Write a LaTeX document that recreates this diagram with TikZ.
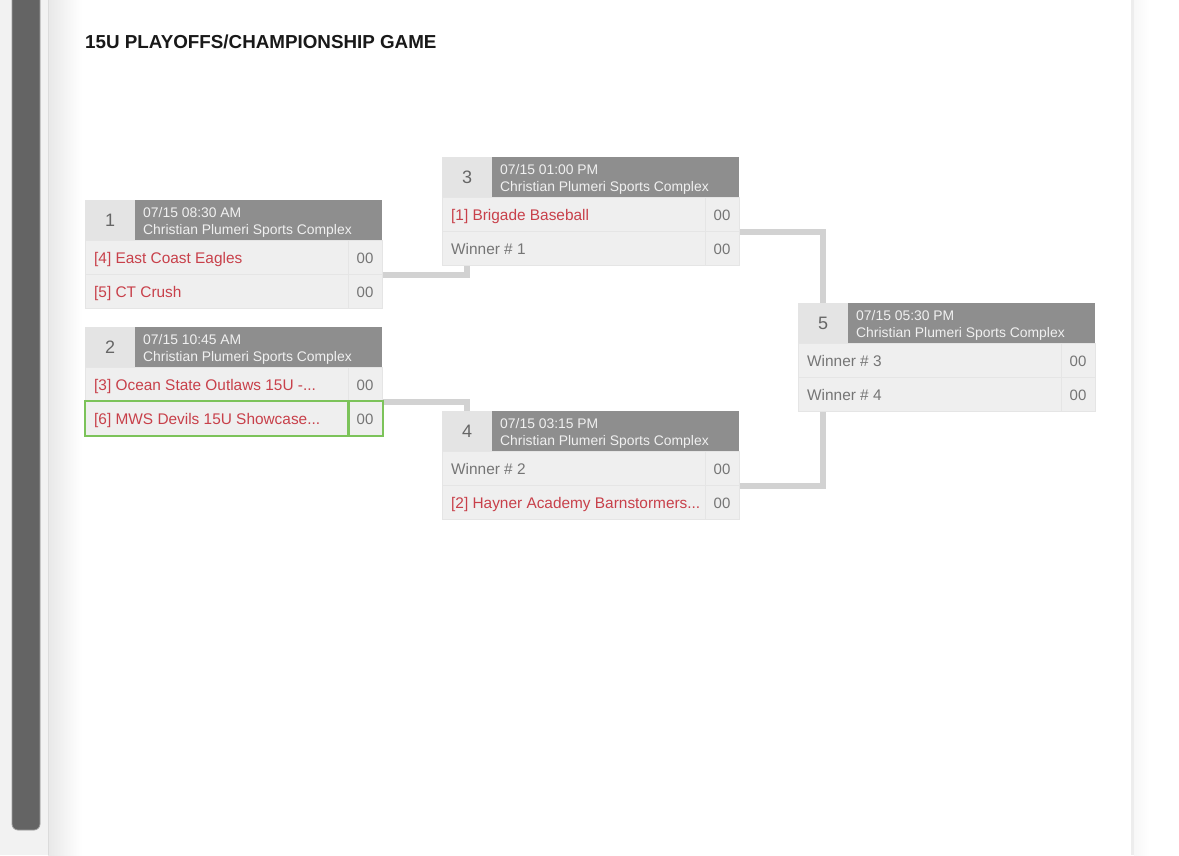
\documentclass[tikz,border=0pt]{standalone}
\usepackage{fontspec}
\setmainfont{Liberation Sans}
\pgfdeclarelayer{bg}
\pgfdeclarelayer{conn}
\pgfsetlayers{bg,conn,main}
\definecolor{hdrgray}{HTML}{8E8E8E}
\definecolor{numgray}{HTML}{E4E4E4}
\definecolor{cellgray}{HTML}{EFEFEF}
\definecolor{cellline}{HTML}{E5E5E5}
\definecolor{teamred}{HTML}{C8404A}
\definecolor{txtgray}{HTML}{757575}
\definecolor{numtxt}{HTML}{666666}
\definecolor{conngray}{HTML}{D2D2D2}
\definecolor{hlgreen}{HTML}{7CC35A}
\definecolor{barcol}{HTML}{646464}
\tikzset{
  numbox/.style={anchor=north west, minimum width=50pt, minimum height=40pt, inner sep=0pt, fill=numgray, text=numtxt, font=\fontsize{18}{20}\selectfont},
  hdrbox/.style={anchor=north west, minimum width=247pt, minimum height=40pt, inner sep=0pt, fill=hdrgray},
  hdrtxt/.style={anchor=base west, inner sep=0pt, text=white!94!black, font=\fontsize{13.9}{16}\selectfont},
  cellbox/.style={anchor=north west, minimum height=34pt, inner sep=0pt, fill=cellgray, draw=cellline, line width=1pt},
  redteam/.style={anchor=base west, inner sep=0pt, text=teamred, font=\fontsize{15.4}{18}\selectfont},
  grayteam/.style={anchor=base west, inner sep=0pt, text=txtgray, font=\fontsize{15.4}{18}\selectfont},
  scoretxt/.style={anchor=base, inner sep=0pt, text=txtgray, font=\fontsize{15}{18}\selectfont},
  connline/.style={draw=conngray, line width=6pt},
  hlbox/.style={draw=hlgreen, line width=2pt}
}
\newcommand\gamebox[9]{%
  \node[numbox] (#1n) at (#2,#3) {#4};
  \node[hdrbox] (#1h) at ({#2+50},#3) {};
  \node[hdrtxt] (#1d) at ({#2+58},{#3+17}) {#5};
  \node[hdrtxt] (#1v) at ({#2+58},{#3+34}) {Christian Plumeri Sports Complex};
  \node[cellbox, minimum width=263pt] (#1r1) at (#2,{#3+40}) {};
  \node[cellbox, minimum width=34pt] (#1s1) at ({#2+263},{#3+40}) {};
  \node[cellbox, minimum width=263pt] (#1r2) at (#2,{#3+74}) {};
  \node[cellbox, minimum width=34pt] (#1s2) at ({#2+263},{#3+74}) {};
  \node[#7] (#1t1) at ({#2+9},{#3+63}) {#6};
  \node[scoretxt] (#1p1) at ({#2+280},{#3+63}) {00};
  \node[#9] (#1t2) at ({#2+9},{#3+97}) {#8};
  \node[scoretxt] (#1p2) at ({#2+280},{#3+97}) {00};
}
\begin{document}
\begin{tikzpicture}[x=1pt,y=-1pt]
\useasboundingbox (0,0) rectangle (1179,855);
\begin{pgfonlayer}{bg}
  \fill[white] (0,0) rectangle (1179,855);
  \fill[white!95!black] (0,0) rectangle (48,855);
  \shade[left color=white!91!black, right color=white] (48,0) rectangle (82,855);
  \draw[white!86!black, line width=1pt] (48,0) -- (48,855);
  \fill[barcol, draw=white!62!black, line width=0.8pt, rounded corners=6pt] (12,-10) rectangle (40,830);
  \fill[white!93!black] (1131,0) rectangle (1134,855);
  \shade[left color=white!97!black, right color=white] (1134,0) rectangle (1150,855);
\end{pgfonlayer}
\node[anchor=base west, inner sep=0pt, text=black!90, font=\fontsize{18.8}{20}\selectfont\bfseries] (title) at (85,48) {15U PLAYOFFS/CHAMPIONSHIP GAME};
\gamebox{ga}{85}{200}{1}{07/15 08:30 AM}{[4] East Coast Eagles}{redteam}{[5] CT Crush}{redteam}
\gamebox{gb}{85}{327}{2}{07/15 10:45 AM}{[3] Ocean State Outlaws 15U -...}{redteam}{[6] MWS Devils 15U Showcase...}{redteam}
\gamebox{gc}{442}{157}{3}{07/15 01:00 PM}{[1] Brigade Baseball}{redteam}{Winner \# 1}{grayteam}
\gamebox{gd}{442}{411}{4}{07/15 03:15 PM}{Winner \# 2}{grayteam}{[2] Hayner Academy Barnstormers...}{redteam}
\gamebox{ge}{798}{303}{5}{07/15 05:30 PM}{Winner \# 3}{grayteam}{Winner \# 4}{grayteam}
\draw[hlbox] (gbr2.north west) rectangle (gbr2.south east);
\draw[hlbox] (gbs2.north west) rectangle (gbs2.south east);
\begin{pgfonlayer}{conn}
  \draw[connline] (gar1.south east) -| (gcn |- gcr2.south);
  \draw[connline] (gbr1.south east) -| (gdn.north);
  \draw[connline] (gcr1.south east) -| (gen.north);
  \draw[connline] (gdr1.south east) -| (gen |- ger2.south);
\end{pgfonlayer}
\end{tikzpicture}
\end{document}
